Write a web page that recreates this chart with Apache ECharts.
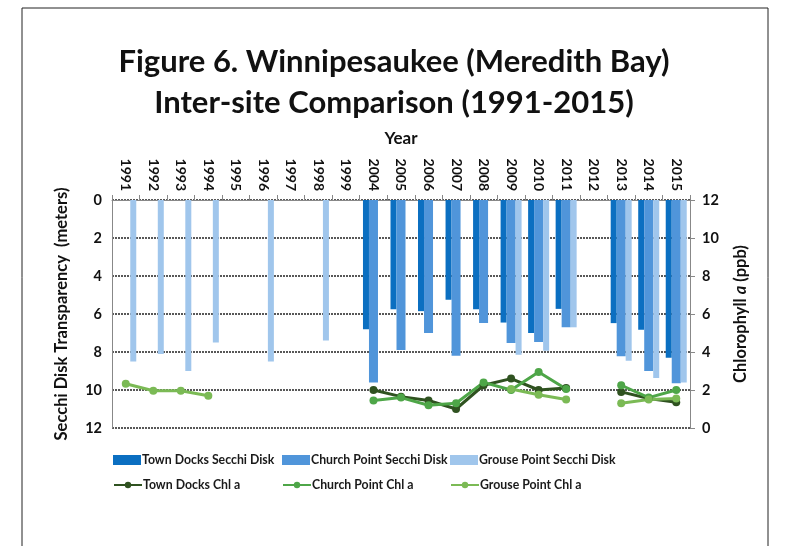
<!DOCTYPE html>
<html><head><meta charset="utf-8">
<script src="https://cdn.jsdelivr.net/npm/echarts@6/dist/echarts.min.js"></script>
<style>html,body{margin:0;padding:0;background:#fff}#c{width:788px;height:546px}</style>
</head><body><div id="c"></div>
<script>
var years = ['1991','1992','1993','1994','1995','1996','1997','1998','1999','2004','2005','2006','2007','2008','2009','2010','2011','2012','2013','2014','2015'];
var leftTicks = [0,2,4,6,8,10,12];
var townSecchi   = [null,null,null,null,null,null,null,null,null, 6.8, 5.75, 5.85, 5.25, 5.75, 6.45, 7.0, 5.73, null, 6.48, 6.83, 8.3];
var churchSecchi = [null,null,null,null,null,null,null,null,null, 9.6, 7.9, 7.0, 8.2, 6.48, 7.53, 7.48, 6.7, null, 8.23, 9.0, 9.65];
var grouseSecchi = [8.5, 8.1, 9.0, 7.5, null, 8.5, null, 7.4, null, null,null,null,null,null, 8.15, 7.93, 6.7, null, 8.46, 9.37, 9.6];
var townChl   = [null,null,null,null,null,null,null,null,null, 2.0, 1.65, 1.45, 1.0, 2.25, 2.6, 2.0, 2.1, null, 1.9, 1.55, 1.35];
var churchChl = [null,null,null,null,null,null,null,null,null, 1.45, 1.6, 1.2, 1.3, 2.4, 2.0, 2.95, 2.05, null, 2.25, 1.6, 2.0];
var grouseChl = [2.33, 1.96, 1.96, 1.7, null,null,null,null,null, null,null,null,null,null, 2.05, 1.75, 1.5, null, 1.3, 1.5, 1.55];

var FONT = 'Lato';
var chart = echarts.init(document.getElementById('c'), null, {renderer:'canvas'});
function lineSeries(name, data, color){
  return {name:name, type:'line', yAxisIndex:1, data:data, connectNulls:false,
    symbol:'circle', symbolSize:8, z:5,
    lineStyle:{color:color, width:3}, itemStyle:{color:color}};
}
function legendAt(name, left, top, isLine){
  return {data:[{name:name, icon: isLine ? undefined : 'rect'}], left:left, top:top, orient:'horizontal',
    itemWidth:28, itemHeight: isLine ? 8 : 10, itemGap:0, padding:0,
    textStyle:{fontFamily:FONT, fontWeight:'bold', fontSize:12.3, color:'#1a1a1a', padding:[0,0,0,-4]}};
}
chart.setOption({
  animation:false,
  textStyle:{fontFamily:FONT},
  graphic:[{type:'rect', shape:{x:22, y:8, width:746, height:600}, style:{fill:'none', stroke:'#222', lineWidth:1}}],
  title:[{text:'Figure 6. Winnipesaukee (Meredith Bay)\nInter-site Comparison (1991-2015)', left:'center', top:36,
    textStyle:{fontFamily:FONT, fontWeight:'bold', fontSize:31, color:'#111', lineHeight:41}}],
  grid:{left:112, right:98, top:200, bottom:118, containLabel:false},
  legend:[
    legendAt('Town Docks Secchi Disk', 113, 454, false),
    legendAt('Church Point Secchi Disk', 282, 454, false),
    legendAt('Grouse Point Secchi Disk', 450, 454, false),
    legendAt('Town Docks Chl a', 113, 479, true),
    legendAt('Church Point Chl a', 282, 479, true),
    legendAt('Grouse Point Chl a', 450, 479, true)
  ],
  xAxis:[{type:'category', data:years, position:'top', boundaryGap:true,
    name:'Year', nameLocation:'middle', nameGap:53,
    nameTextStyle:{fontFamily:FONT, fontWeight:'bold', fontSize:17, color:'#111'},
    axisLine:{lineStyle:{color:'#888', width:1}},
    axisTick:{show:true, inside:false, length:5, lineStyle:{color:'#888'}, alignWithLabel:false},
    axisLabel:{rotate:-90, fontFamily:FONT, fontWeight:'bold', fontSize:14, color:'#111', margin:9, interval:0},
    splitLine:{show:false}}],
  yAxis:[
    {type:'value', min:0, max:12, interval:2, inverse:true, position:'left',
     name:'Secchi Disk Transparency  (meters)', nameLocation:'middle', nameRotate:90, nameGap:42,
     nameTextStyle:{fontFamily:FONT, fontWeight:'bold', fontSize:16.5, color:'#111'},
     axisLine:{show:true, lineStyle:{color:'#888'}}, axisTick:{show:false},
     axisLabel:{fontFamily:FONT, fontWeight:'bold', fontSize:14.5, color:'#111', margin:10,
       formatter:function(v){return leftTicks.indexOf(v)>=0 ? String(v) : '';}},
     splitLine:{show:true, lineStyle:{type:[2,1], color:'#222', width:1.5}}},
    {type:'value', min:0, max:12, interval:2, position:'right',
     name:'{n|Chlorophyll }{i|a}{n| (ppb)}', nameLocation:'middle', nameRotate:90, nameGap:42,
     nameTextStyle:{rich:{n:{fontFamily:FONT, fontWeight:'bold', fontSize:16.5, color:'#111'},
                          i:{fontFamily:FONT, fontWeight:'bold', fontStyle:'italic', fontSize:16.5, color:'#111'}}},
     axisLine:{show:true, lineStyle:{color:'#888'}}, axisTick:{show:true, inside:false, length:5, lineStyle:{color:'#888'}},
     axisLabel:{fontFamily:FONT, fontWeight:'bold', fontSize:14.5, color:'#111', margin:12},
     splitLine:{show:false}}
  ],
  series:[
    {name:'Town Docks Secchi Disk', type:'bar', yAxisIndex:0, data:townSecchi, barWidth:6, barGap:'0%', itemStyle:{color:'#0B6FC1'}},
    {name:'Church Point Secchi Disk', type:'bar', yAxisIndex:0, data:churchSecchi, barWidth:9, barGap:'0%', itemStyle:{color:'#5095DA'}},
    {name:'Grouse Point Secchi Disk', type:'bar', yAxisIndex:0, data:grouseSecchi, barWidth:6, barGap:'0%', itemStyle:{color:'#A0C6EC'}},
    lineSeries('Town Docks Chl a', townChl, '#2F5220'),
    lineSeries('Church Point Chl a', churchChl, '#4EA648'),
    lineSeries('Grouse Point Chl a', grouseChl, '#7BBA55')
  ]
});
</script></body></html>
